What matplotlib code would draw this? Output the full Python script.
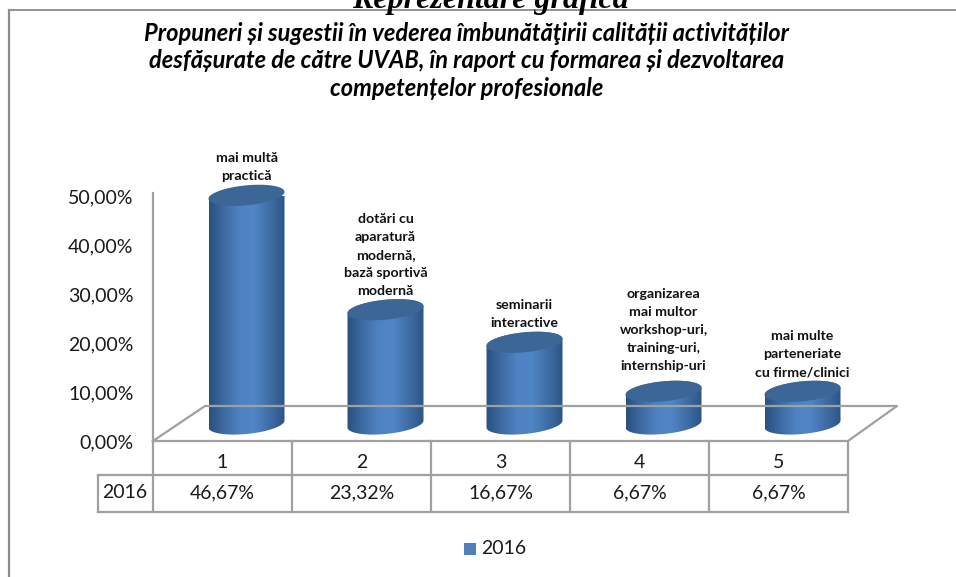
import matplotlib
matplotlib.use('Agg')
import matplotlib.pyplot as plt
import numpy as np
from matplotlib.path import Path
from matplotlib.patches import PathPatch, Rectangle
from matplotlib.colors import LinearSegmentedColormap

W, H = 956, 577

categories = [1, 2, 3, 4, 5]
values = [46.67, 23.32, 16.67, 6.67, 6.67]
value_labels = ['46,67%', '23,32%', '16,67%', '6,67%', '6,67%']
series_name = '2016'
bar_labels = ['mai multă\npractică',
              'dotări cu\naparatură\nmodernă,\nbază sportivă\nmodernă',
              'seminarii\ninteractive',
              'organizarea\nmai multor\nworkshop-uri,\ntraining-uri,\ninternship-uri',
              'mai multe\nparteneriate\ncu firme/clinici']
y_ticks = [0, 10, 20, 30, 40, 50]
y_tick_labels = ['0,00%', '10,00%', '20,00%', '30,00%', '40,00%', '50,00%']
title = ('Propuneri și sugestii în vederea îmbunătăţirii calității activităților\n'
         'desfășurate de către UVAB, în raport cu formarea și dezvoltarea\n'
         'competențelor profesionale')

plt.rcParams['font.family'] = ['Lato', 'DejaVu Sans']
GREY = '#a0a0a0'
TEXT = '#1a1a1a'
cmap = LinearSegmentedColormap.from_list('cyl', ['#2b5080', '#3d6ba3', '#4f82c2', '#5085c6', '#3f6ea6', '#2d5586'])

fig = plt.figure(figsize=(W / 100, H / 100), dpi=100)

# plot area, 0% at y=441px and 50% at y=196px
ax = fig.add_axes([153 / W, 1 - 441 / H, 695 / W, 245 / H])
ax.set_xlim(0.5, 5.5)
ax.set_ylim(0, 50)
ax.patch.set_visible(False)
for s in ax.spines.values():
    s.set_visible(False)
ax.set_xticks([])
ax.set_yticks(y_ticks)
ax.set_yticklabels(y_tick_labels, fontsize=14, color=TEXT)
ax.tick_params(axis='y', length=0, pad=14)

# pixel sizes in data units
px_x = 5 / 695
px_y = 50 / 245


def page_line(xs, ys, lw=1.6, color=GREY):
    fig.add_artist(plt.Line2D([x / W for x in xs], [1 - y / H for y in ys], color=color, lw=lw,
                              solid_capstyle='projecting'))


# wall and floor
page_line([153, 153], [193, 441])
page_line([153, 205, 897, 848, 153], [441, 406, 406, 441, 441])


def cylinder(x, v):
    cx = x + 24 * px_x
    base = 17 * px_y
    a = 38 * px_x
    b = 10 * px_y
    k = 3.5 * px_y
    top = base + v
    t1 = np.linspace(0, np.pi, 60)
    t2 = np.linspace(np.pi, 2 * np.pi, 60)
    # upper half of the top ellipse, then lower half of the base ellipse
    body = np.vstack([
        np.c_[cx + a * np.cos(t1), top + b * np.sin(t1) + k * np.cos(t1)],
        np.c_[cx + a * np.cos(t2), base + b * np.sin(t2) + k * np.cos(t2)],
    ])
    t = np.linspace(0, 2 * np.pi, 120)
    cap = np.c_[cx + a * np.cos(t), top + b * np.sin(t) + k * np.cos(t)]

    clip = PathPatch(Path(np.vstack([body, body[:1]])), fc='none', ec='none', transform=ax.transData)
    ax.add_patch(clip)
    im = ax.imshow(np.linspace(0, 1, 128)[None, :], cmap=cmap, aspect='auto', zorder=3,
                   extent=[cx - a, cx + a, base - 2 * b, top + 2 * b])
    im.set_clip_path(clip)
    ax.fill(cap[:, 0], cap[:, 1], color='#3c6696', zorder=4, clip_on=False, lw=0)
    return cx, top + b


label_pad = [3, 3, 3, 9, 3]
for cat, v, lab, pad in zip(categories, values, bar_labels, label_pad):
    cx, ytop = cylinder(cat, v)
    ax.text(cx, ytop + pad * px_y, lab, ha='center', va='bottom', fontsize=10.2, fontweight='bold',
            color='#111111', linespacing=1.6, clip_on=False, zorder=5)
ax.set_xlim(0.5, 5.5)
ax.set_ylim(0, 50)

# data table under the plot
edges = [153 + 139 * i for i in range(6)]
for e in edges:
    page_line([e, e], [441, 512])
page_line([98, 98], [475, 512])
page_line([98, 848], [475, 475])
page_line([98, 848], [512, 512])
for i, cat in enumerate(categories):
    xc = (edges[i] + edges[i + 1]) / 2 / W
    fig.text(xc, 1 - 463 / H, str(cat), ha='center', va='center', fontsize=14, color=TEXT)
    fig.text(xc, 1 - 493 / H, value_labels[i], ha='center', va='center', fontsize=14, color=TEXT)
fig.text(125 / W, 1 - 493 / H, series_name, ha='center', va='center', fontsize=14, color=TEXT)

# legend
fig.add_artist(Rectangle((464 / W, 1 - 555 / H), 12 / W, 12 / H, transform=fig.transFigure,
                         fc='#4f81bd', ec='none'))
fig.text(481 / W, 1 - 548 / H, series_name, ha='left', va='center', fontsize=14, color=TEXT)

# title
fig.text(467 / W, 1 - 61 / H, title, ha='center', va='center', fontsize=17, fontweight='bold',
         fontstyle='italic', color='black', linespacing=1.26)

# page heading, cut by the top of the image
fig.text(490 / W, 1 - 8 / H, 'Reprezentare grafică', ha='center', va='baseline', fontsize=23,
         fontweight='bold', fontstyle='italic', family=['Liberation Serif'], color='black')

# chart frame
page_line([9, 956], [10, 10], lw=1.2, color='#808080')
page_line([9, 9], [10, 577], lw=1.6, color='#8c8c8c')

fig.savefig('out.png', dpi=100)
